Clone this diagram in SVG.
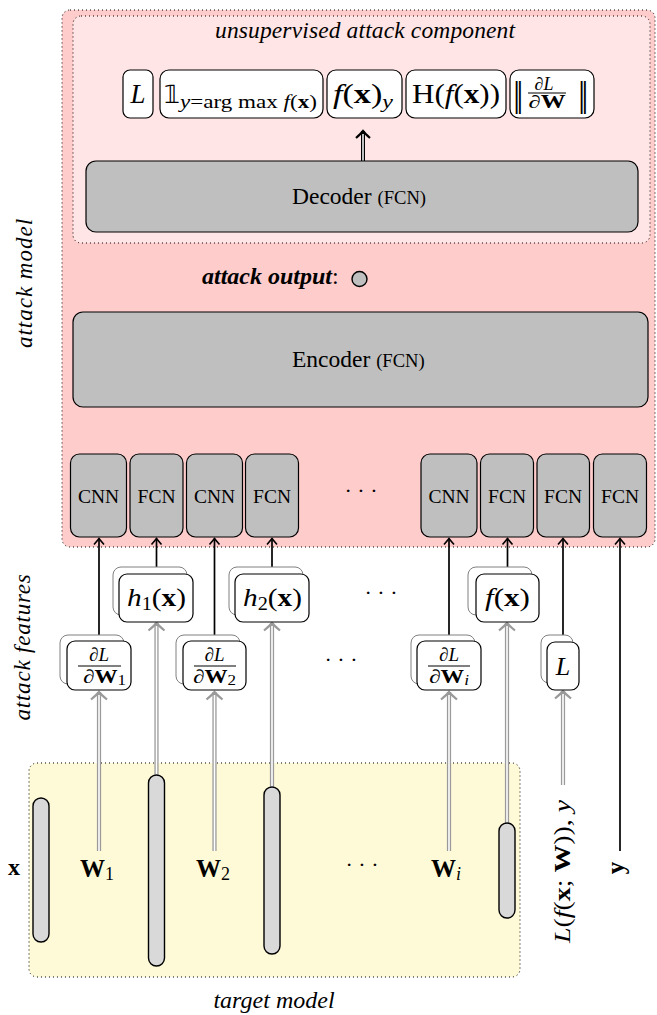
<svg xmlns="http://www.w3.org/2000/svg" width="657" height="1015" viewBox="0 0 657 1015">
<defs>
<style>
text{font-family:"Liberation Serif","Times New Roman",serif;fill:#000}
.it{font-style:italic}
.bf{font-weight:bold}
.region{stroke:#000;stroke-width:1;stroke-dasharray:1 3}
.gbox{fill:#bfbfbf;stroke:#000;stroke-width:1.2}
.wbox{fill:#fff;stroke:#000;stroke-width:1.2}
.sbox{fill:#fff;stroke:#808080;stroke-width:1}
.cap{fill:#d9d9d9;stroke:#000;stroke-width:1.4}
.blk{stroke:#000;stroke-width:1.7;fill:none}
.gout{stroke:#9a9a9a;stroke-width:4.2;fill:none}
.gin{stroke:#fff;stroke-width:1.6;fill:none}
.bout{stroke:#000;stroke-width:4;fill:none}
.bin{stroke:#fff;stroke-width:1.5;fill:none}
.bar{stroke:#000;stroke-width:1}
</style>
<marker id="ahb" markerUnits="userSpaceOnUse" markerWidth="16" markerHeight="16" refX="0" refY="0" viewBox="-8 -8 16 16" orient="auto" overflow="visible">
<path d="M-6,-5 Q-2,-1.5 0,0 Q-2,1.5 -6,5" fill="none" stroke="#000" stroke-width="1.6"/>
</marker>
<marker id="ahg" markerUnits="userSpaceOnUse" markerWidth="20" markerHeight="20" refX="0" refY="0" viewBox="-10 -10 20 20" orient="auto" overflow="visible">
<path d="M-7.5,-8 Q-2.5,-2 0,0 Q-2.5,2 -7.5,8" fill="none" stroke="#9a9a9a" stroke-width="2.2"/>
</marker>
<marker id="ahk" markerUnits="userSpaceOnUse" markerWidth="20" markerHeight="20" refX="0" refY="0" viewBox="-10 -10 20 20" orient="auto" overflow="visible">
<path d="M-7,-7 Q-2.5,-2 0,0 Q-2.5,2 -7,7" fill="none" stroke="#000" stroke-width="2.2"/>
</marker>
</defs>

<!-- regions -->
<g id="attack-model">
<rect class="region" x="62" y="10" width="593" height="537" rx="8" fill="#ffcccc"/>
<text class="it" x="0" y="0" font-size="23" letter-spacing="1" text-anchor="middle" transform="translate(32,283) rotate(-90)">attack model</text>
</g>
<g id="unsupervised-component">
<rect class="region" x="73" y="16" width="577" height="227" rx="8" fill="#ffe5e5"/>
<text class="it" x="365" y="38" font-size="23.5" text-anchor="middle" textLength="300">unsupervised attack component</text>
</g>
<g id="target-model">
<rect class="region" x="29" y="763" width="491" height="214" rx="8" fill="#fef9d6"/>
<text class="it" x="274" y="1008" font-size="24" text-anchor="middle">target model</text>
</g>
<g id="attack-features-label">
<text class="it" x="0" y="0" font-size="23" letter-spacing="0.8" text-anchor="middle" transform="translate(30,647) rotate(-90)">attack features</text>
</g>

<!-- connectors -->
<g id="connectors">
<line class="blk" x1="99" y1="641" x2="99" y2="538.5" marker-end="url(#ahb)"/>
<line class="blk" x1="156.5" y1="574" x2="156.5" y2="538.5" marker-end="url(#ahb)"/>
<line class="blk" x1="214.5" y1="641" x2="214.5" y2="538.5" marker-end="url(#ahb)"/>
<line class="blk" x1="272" y1="574" x2="272" y2="538.5" marker-end="url(#ahb)"/>
<line class="blk" x1="449" y1="641" x2="449" y2="538.5" marker-end="url(#ahb)"/>
<line class="blk" x1="507.5" y1="574" x2="507.5" y2="538.5" marker-end="url(#ahb)"/>
<line class="blk" x1="563" y1="642" x2="563" y2="538.5" marker-end="url(#ahb)"/>
<line class="blk" x1="620" y1="851" x2="620" y2="538.5" marker-end="url(#ahb)"/>

<line class="gout" x1="99" y1="851" x2="99" y2="692" marker-end="url(#ahg)"/>
<line class="gin" x1="99" y1="851" x2="99" y2="695"/>
<line class="gout" x1="156.5" y1="775" x2="156.5" y2="623" marker-end="url(#ahg)"/>
<line class="gin" x1="156.5" y1="776" x2="156.5" y2="626"/>
<line class="gout" x1="214.5" y1="851" x2="214.5" y2="692" marker-end="url(#ahg)"/>
<line class="gin" x1="214.5" y1="851" x2="214.5" y2="695"/>
<line class="gout" x1="272" y1="787" x2="272" y2="623" marker-end="url(#ahg)"/>
<line class="gin" x1="272" y1="788" x2="272" y2="626"/>
<line class="gout" x1="449" y1="851" x2="449" y2="692" marker-end="url(#ahg)"/>
<line class="gin" x1="449" y1="851" x2="449" y2="695"/>
<line class="gout" x1="507" y1="823" x2="507" y2="623" marker-end="url(#ahg)"/>
<line class="gin" x1="507" y1="824" x2="507" y2="626"/>
<line class="gout" x1="563" y1="785" x2="563" y2="691" marker-end="url(#ahg)"/>
<line class="gin" x1="563" y1="785" x2="563" y2="694"/>

<line class="bout" x1="363" y1="161" x2="363" y2="131" marker-end="url(#ahk)"/>
<line class="bin" x1="363" y1="161" x2="363" y2="134"/>
</g>

<!-- top output row -->
<g id="out-L">
<rect class="wbox" x="123" y="70" width="30" height="48" rx="7"/>
<text class="it" x="138" y="103" font-size="27" text-anchor="middle">L</text>
</g>
<g id="out-indicator">
<rect class="wbox" x="160" y="70" width="163" height="48" rx="9"/>
<text x="164" y="103" font-size="25" font-family="DejaVu Serif, DejaVu Sans, serif">𝟙</text>
<text x="180" y="108" font-size="18" textLength="137" lengthAdjust="spacingAndGlyphs"><tspan class="it">y</tspan>=arg max <tspan class="it">f</tspan>(<tspan class="bf">x</tspan>)</text>
</g>
<g id="out-fxy">
<rect class="wbox" x="327" y="70" width="75" height="48" rx="9"/>
<text x="333" y="103" font-size="27" textLength="60" lengthAdjust="spacingAndGlyphs"><tspan class="it">f</tspan>(<tspan class="bf">x</tspan>)<tspan class="it" font-size="19" dy="5">y</tspan></text>
</g>
<g id="out-entropy">
<rect class="wbox" x="406" y="70" width="100" height="48" rx="9"/>
<text x="412" y="103" font-size="27" textLength="88" lengthAdjust="spacingAndGlyphs">H(<tspan class="it">f</tspan>(<tspan class="bf">x</tspan>))</text>
</g>
<g id="out-gradnorm">
<rect class="wbox" x="510" y="70" width="84" height="48" rx="9"/>
<text x="513" y="106" font-size="36" letter-spacing="-4">||</text>
<text x="578" y="106" font-size="36" letter-spacing="-4">||</text>
<text x="544" y="90" font-size="18" text-anchor="middle">∂<tspan class="it">L</tspan></text>
<line class="bar" x1="528" y1="93" x2="566" y2="93"/>
<text x="547" y="108" font-size="18" text-anchor="middle" textLength="37" lengthAdjust="spacingAndGlyphs">∂<tspan class="bf">W</tspan></text>
</g>

<g id="decoder">
<rect class="gbox" x="86" y="161" width="552" height="71" rx="10"/>
<text x="292" y="204" font-size="23.5">Decoder <tspan font-size="18.6">(FCN)</tspan></text>
</g>

<g id="attack-output">
<text x="202" y="284" font-size="24"><tspan class="it bf">attack output</tspan>:</text>
<circle cx="359.5" cy="279" r="7.5" fill="#bfbfbf" stroke="#000" stroke-width="1.4"/>
</g>

<g id="encoder">
<rect class="gbox" x="73" y="312" width="575" height="95" rx="10"/>
<text x="292" y="367" font-size="23.5">Encoder <tspan font-size="18.6">(FCN)</tspan></text>
</g>

<!-- attack network components -->
<g id="comp1"><rect class="gbox" x="70.5" y="454" width="56" height="83" rx="9"/><text x="98.5" y="503" font-size="19.5" text-anchor="middle">CNN</text></g>
<g id="comp2"><rect class="gbox" x="130" y="454" width="53" height="83" rx="9"/><text x="156.5" y="503" font-size="19.5" text-anchor="middle">FCN</text></g>
<g id="comp3"><rect class="gbox" x="186.5" y="454" width="56" height="83" rx="9"/><text x="214.5" y="503" font-size="19.5" text-anchor="middle">CNN</text></g>
<g id="comp4"><rect class="gbox" x="245.5" y="454" width="53" height="83" rx="9"/><text x="272" y="503" font-size="19.5" text-anchor="middle">FCN</text></g>
<g id="comp-dots"><text x="361" y="498" font-size="22" text-anchor="middle">· · ·</text></g>
<g id="comp5"><rect class="gbox" x="421" y="454" width="56" height="83" rx="9"/><text x="449" y="503" font-size="19.5" text-anchor="middle">CNN</text></g>
<g id="comp6"><rect class="gbox" x="480.5" y="454" width="53" height="83" rx="9"/><text x="507" y="503" font-size="19.5" text-anchor="middle">FCN</text></g>
<g id="comp7"><rect class="gbox" x="537" y="454" width="52.5" height="83" rx="9"/><text x="563" y="503" font-size="19.5" text-anchor="middle">FCN</text></g>
<g id="comp8"><rect class="gbox" x="593.5" y="454" width="53" height="83" rx="9"/><text x="620" y="503" font-size="19.5" text-anchor="middle">FCN</text></g>

<!-- attack features -->
<g id="feat-grad1">
<rect class="sbox" x="60" y="635" width="64" height="49" rx="8"/>
<rect class="wbox" x="67" y="641" width="64" height="49" rx="8"/>
<text x="99" y="661" font-size="19" text-anchor="middle">∂<tspan class="it">L</tspan></text>
<line class="bar" x1="78" y1="666" x2="121" y2="666"/>
<text x="83" y="683" font-size="19" textLength="43" lengthAdjust="spacingAndGlyphs">∂<tspan class="bf">W</tspan><tspan font-size="14" dy="2">1</tspan></text>
</g>
<g id="feat-h1">
<rect class="sbox" x="113" y="567" width="74" height="48" rx="8"/>
<rect class="wbox" x="119" y="574" width="74" height="48" rx="8"/>
<text x="127" y="606" font-size="26" textLength="59" lengthAdjust="spacingAndGlyphs"><tspan class="it">h</tspan><tspan font-size="18" dy="4">1</tspan><tspan dy="-4">(</tspan><tspan class="bf">x</tspan>)</text>
</g>
<g id="feat-grad2">
<rect class="sbox" x="176" y="635" width="64" height="49" rx="8"/>
<rect class="wbox" x="183" y="641" width="63" height="49" rx="8"/>
<text x="214.5" y="661" font-size="19" text-anchor="middle">∂<tspan class="it">L</tspan></text>
<line class="bar" x1="194" y1="666" x2="236" y2="666"/>
<text x="193" y="683" font-size="19" textLength="43" lengthAdjust="spacingAndGlyphs">∂<tspan class="bf">W</tspan><tspan font-size="14" dy="2">2</tspan></text>
</g>
<g id="feat-h2">
<rect class="sbox" x="229" y="567" width="74" height="48" rx="8"/>
<rect class="wbox" x="235" y="574" width="74" height="48" rx="8"/>
<text x="243" y="606" font-size="26" textLength="59" lengthAdjust="spacingAndGlyphs"><tspan class="it">h</tspan><tspan font-size="18" dy="4">2</tspan><tspan dy="-4">(</tspan><tspan class="bf">x</tspan>)</text>
</g>
<g id="feat-dots1"><text x="381" y="600" font-size="22" text-anchor="middle">· · ·</text></g>
<g id="feat-dots2"><text x="341" y="667" font-size="22" text-anchor="middle">· · ·</text></g>
<g id="feat-gradi">
<rect class="sbox" x="411" y="635" width="64" height="49" rx="8"/>
<rect class="wbox" x="417" y="641" width="64" height="49" rx="8"/>
<text x="449" y="661" font-size="19" text-anchor="middle">∂<tspan class="it">L</tspan></text>
<line class="bar" x1="428" y1="666" x2="470" y2="666"/>
<text x="429" y="683" font-size="19" textLength="40" lengthAdjust="spacingAndGlyphs">∂<tspan class="bf">W</tspan><tspan class="it" font-size="14" dy="2">i</tspan></text>
</g>
<g id="feat-fx">
<rect class="sbox" x="468" y="567" width="64" height="48" rx="8"/>
<rect class="wbox" x="476" y="574" width="63" height="48" rx="8"/>
<text x="485" y="606" font-size="26" textLength="45" lengthAdjust="spacingAndGlyphs"><tspan class="it">f</tspan>(<tspan class="bf">x</tspan>)</text>
</g>
<g id="feat-L">
<rect class="sbox" x="541" y="635" width="32" height="48" rx="8"/>
<rect class="wbox" x="547" y="642" width="32" height="48" rx="8"/>
<text x="563" y="675" font-size="26" text-anchor="middle" class="it">L</text>
</g>

<!-- target model contents -->
<g id="layer-x"><rect class="cap" x="33" y="798" width="16" height="144" rx="8"/><text class="bf" x="14" y="875" font-size="24" text-anchor="middle">x</text></g>
<g id="layer-h1"><rect class="cap" x="148.5" y="775" width="16" height="191" rx="8"/></g>
<g id="layer-h2"><rect class="cap" x="264" y="787" width="16" height="167" rx="8"/></g>
<g id="layer-out"><rect class="cap" x="499" y="823" width="16" height="95" rx="8"/></g>
<g id="weights-1"><text x="80" y="877" font-size="25"><tspan class="bf">W</tspan><tspan font-size="18" dy="3">1</tspan></text></g>
<g id="weights-2"><text x="196" y="877" font-size="25"><tspan class="bf">W</tspan><tspan font-size="18" dy="3">2</tspan></text></g>
<g id="weights-dots"><text x="362" y="872" font-size="22" text-anchor="middle">· · ·</text></g>
<g id="weights-i"><text x="431" y="877" font-size="25"><tspan class="bf">W</tspan><tspan class="it" font-size="18" dy="3">i</tspan></text></g>
<g id="loss-label"><text x="0" y="0" font-size="24" text-anchor="middle" textLength="143" lengthAdjust="spacingAndGlyphs" transform="translate(570,871.5) rotate(-90)"><tspan class="it">L</tspan>(<tspan class="it">f</tspan>(<tspan class="bf">x</tspan>; <tspan class="bf">W</tspan>)), <tspan class="it">y</tspan></text></g>
<g id="label-y"><text class="bf" x="0" y="0" font-size="25" text-anchor="middle" transform="translate(624,868) rotate(-90)">y</text></g>
</svg>
